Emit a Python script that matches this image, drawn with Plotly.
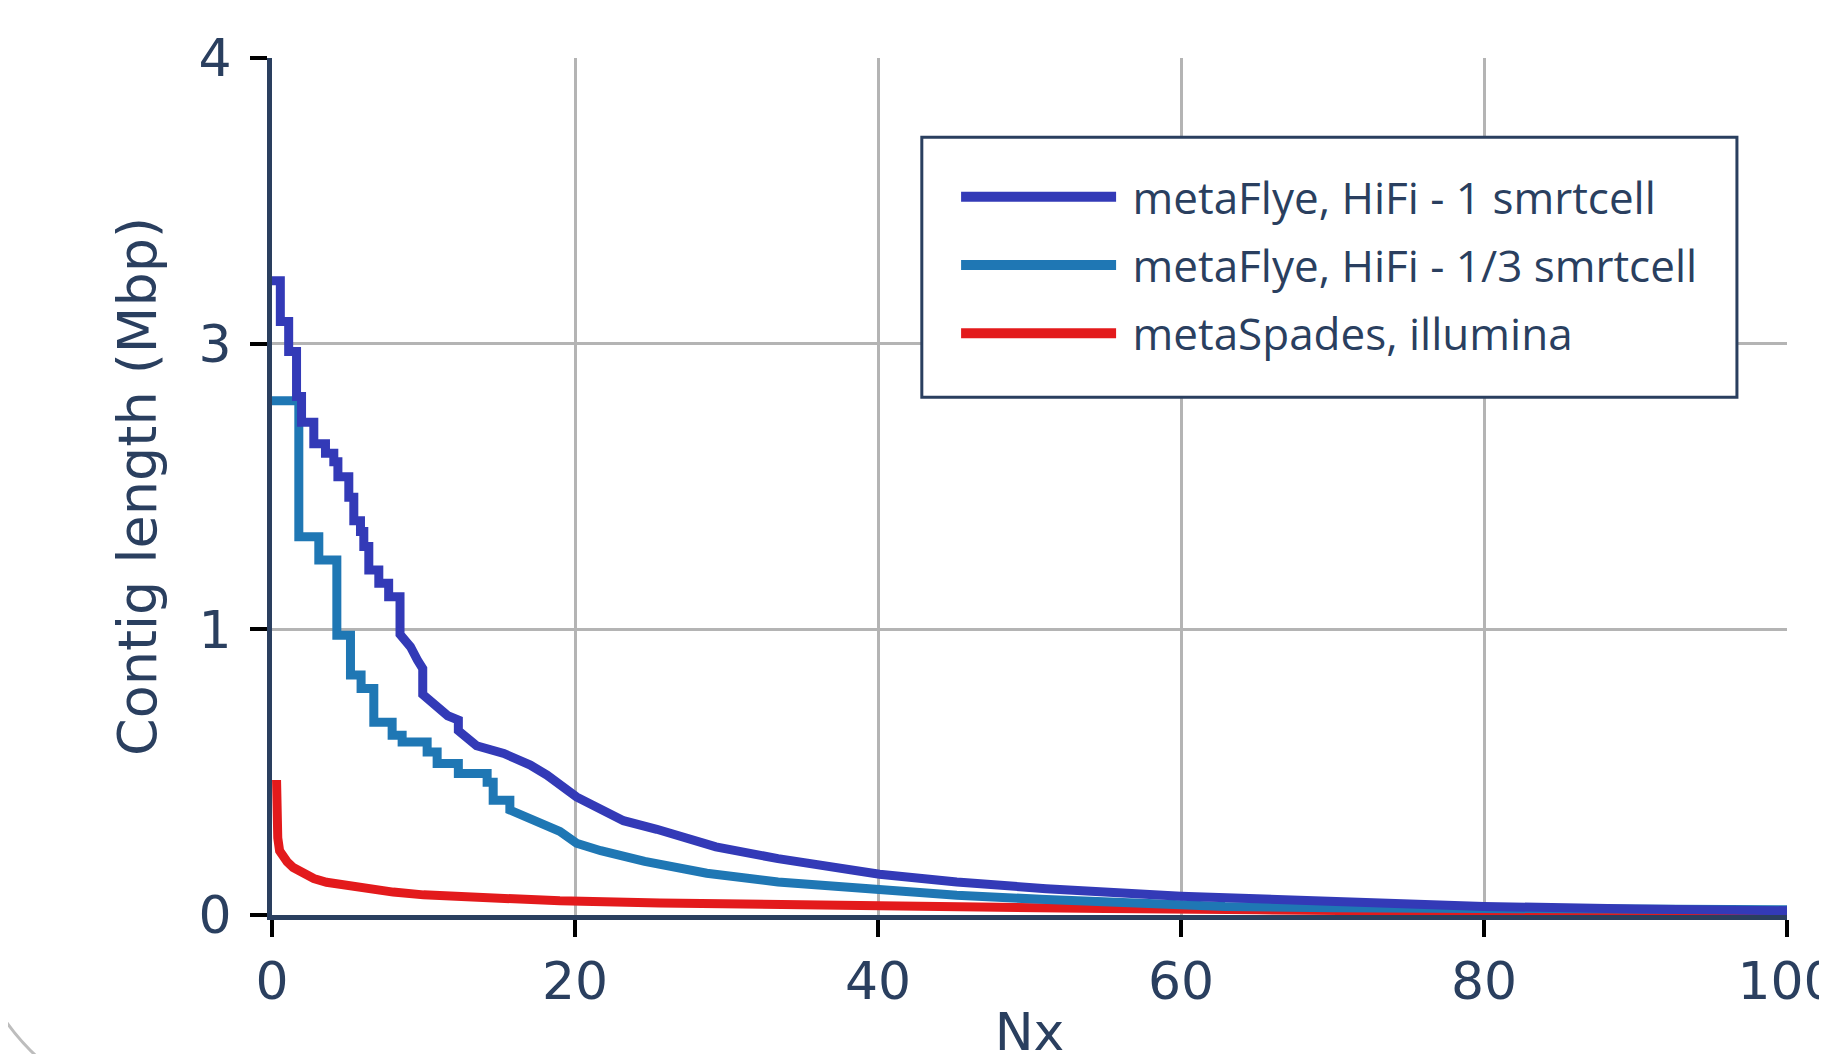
import plotly.graph_objects as go

# ---------------- data ----------------
# metaFlye, HiFi - 1 smrtcell  (Nx %, contig length Mbp) - step curve
flye1_nx = [0, 0.55, 0.55, 1.1, 1.1, 1.62, 1.62, 1.95, 1.95, 2.76, 2.76, 3.53, 3.53,
            4.08, 4.08, 4.35, 4.35, 5.07, 5.07, 5.4, 5.4, 5.84, 5.84, 6.06, 6.06,
            6.39, 6.39, 7.05, 7.05, 7.7, 7.7, 8.45, 8.45, 9.14, 9.6, 9.95, 9.95,
            10.9, 11.6, 12.3, 12.3, 13.5, 15.3, 17.05, 18.15, 20.1, 21.8, 23.2,
            25.4, 27.0, 29.3, 33.4, 37.3, 40.1, 45.2, 51.1, 60.0, 70.0, 80.0, 90.0, 100.0]
flye1_len = [2.96, 2.96, 2.77, 2.77, 2.63, 2.63, 2.42, 2.42, 2.30, 2.30, 2.20, 2.20, 2.155,
             2.155, 2.116, 2.116, 2.046, 2.046, 1.95, 1.95, 1.84, 1.84, 1.79, 1.79, 1.72,
             1.72, 1.61, 1.61, 1.548, 1.548, 1.485, 1.485, 1.31, 1.252, 1.19, 1.15, 1.03,
             0.97, 0.93, 0.91, 0.86, 0.79, 0.754, 0.70, 0.653, 0.551, 0.485, 0.44,
             0.40, 0.365, 0.318, 0.263, 0.217, 0.19, 0.154, 0.123, 0.088, 0.062, 0.040, 0.028, 0.020]

# metaFlye, HiFi - 1/3 smrtcell
flye3_nx = [0, 1.77, 1.77, 3.09, 3.09, 4.28, 4.28, 5.18, 5.18, 5.88, 5.88, 6.72, 6.72,
            7.93, 7.93, 8.59, 8.59, 10.24, 10.24, 10.9, 10.9, 12.3, 12.3, 14.2, 14.2,
            14.6, 14.6, 15.7, 15.7, 16.0, 17.4, 19.0, 20.1, 21.7, 24.6, 28.7, 33.4,
            39.3, 45.2, 51.1, 57.0, 62.9, 70.0, 80.0, 90.0, 100.0]
flye3_len = [2.40, 2.40, 1.766, 1.766, 1.657, 1.657, 1.306, 1.306, 1.12, 1.12, 1.057, 1.057, 0.90,
             0.90, 0.839, 0.839, 0.808, 0.808, 0.761, 0.761, 0.707, 0.707, 0.66, 0.66, 0.62,
             0.62, 0.536, 0.536, 0.49, 0.48, 0.435, 0.39, 0.335, 0.30, 0.25, 0.195, 0.154,
             0.123, 0.092, 0.072, 0.053, 0.040, 0.034, 0.032, 0.028, 0.024]

# metaSpades, illumina
spades_nx = [0.3, 0.32, 0.38, 0.5, 0.7, 1.0, 1.4, 1.88, 2.76, 3.6, 4.74, 6.2, 8.0, 10.0,
             12.4, 15.5, 19.0, 25.6, 35.0, 45.0, 55.0, 65.0, 75.0, 85.0, 100.0]
spades_len = [0.63, 0.45, 0.36, 0.30, 0.27, 0.248, 0.222, 0.20, 0.17, 0.153, 0.139, 0.122, 0.107, 0.094,
              0.084, 0.075, 0.066, 0.056, 0.045, 0.037, 0.030, 0.024, 0.018, 0.012, 0.005]

series_names = ["metaFlye, HiFi - 1 smrtcell", "metaFlye, HiFi - 1/3 smrtcell", "metaSpades, illumina"]
series_colors = ["#333ab7", "#1f77b4", "#e31a1c"]

x_tick_vals = [0, 20, 40, 60, 80, 100]
x_tick_text = ["0", "20", "40", "60", "80", "100"]
y_tick_vals = [0, 4 / 3, 8 / 3, 4]
y_tick_text = ["0", "1", "3", "4"]

# ---------------- figure ----------------
W, H = 1827, 1054
OFF = 8  # page body margin of the html page
L, T = 271.5 - OFF, 58.3 - OFF
PW, PH = 1515.9, 856.4
R, B = W - L - PW, H - T - PH

navy = "#2a3f5f"
grid = "#b4b4b4"


def px_to_paper(px, py):
    """page pixel -> paper coordinates"""
    fx, fy = px - OFF, py - OFF
    return (fx - L) / PW, (T + PH - fy) / PH


fig = go.Figure()
# draw order: red bottom, dark blue on top
order = [2, 1, 0]
data = [(flye1_nx, flye1_len), (flye3_nx, flye3_len), (spades_nx, spades_len)]
for i in order:
    nx, ln = data[i]
    fig.add_trace(go.Scatter(x=nx, y=ln, mode="lines", name=series_names[i],
                             line=dict(color=series_colors[i], width=9),
                             showlegend=False, legendgroup=f"g{i}"))
# legend entries (thicker sample lines, as in the reference)
for i in range(3):
    fig.add_trace(go.Scatter(x=[None], y=[None], mode="lines",
                             name="\u00a0" + series_names[i],
                             line=dict(color=series_colors[i], width=15),
                             legendgroup=f"g{i}", showlegend=True))

# faint arc in the lower-left corner of the reference
a0 = px_to_paper(-2, 1010)
a1 = px_to_paper(14, 1036)
a2 = px_to_paper(38, 1058)
arc_path = f"M {a0[0]},{a0[1]} Q {a1[0]},{a1[1]} {a2[0]},{a2[1]}"

bx0, by0 = px_to_paper(921.7, 137.5)
bx1, by1 = px_to_paper(1737.3, 397.3)
lgx, lgy = px_to_paper(956, 162)

fig.update_layout(
    width=W, height=H,
    margin=dict(l=L, r=R, t=T, b=B, autoexpand=False),
    plot_bgcolor="white", paper_bgcolor="white",
    font=dict(family="DejaVu Sans", color=navy),
    showlegend=True,
    legend=dict(
        x=lgx, y=lgy, xanchor="left", yanchor="top",
        bgcolor="rgba(0,0,0,0)", borderwidth=0,
        font=dict(family="Open Sans", size=44, color=navy),
        traceorder="grouped", tracegroupgap=8, itemwidth=155,
    ),
    xaxis=dict(
        range=[0, 100], tickvals=x_tick_vals, ticktext=x_tick_text,
        showgrid=True, gridcolor=grid, gridwidth=3, zeroline=False,
        showline=True, linecolor=navy, linewidth=5,
        ticks="outside", ticklen=17, tickwidth=4, tickcolor="black",
        ticklabeloverflow="allow",
        tickfont=dict(size=52, color=navy, family="DejaVu Sans"),
        title=dict(text="Nx", font=dict(size=52, color=navy, family="DejaVu Sans"), standoff=18),
        automargin=False,
    ),
    yaxis=dict(
        range=[0, 4], tickvals=y_tick_vals, ticktext=y_tick_text,
        showgrid=True, gridcolor=grid, gridwidth=3, zeroline=False,
        showline=True, linecolor=navy, linewidth=5,
        ticks="outside", ticklen=17, tickwidth=4, tickcolor="black",
        ticklabelstandoff=8,
        tickfont=dict(size=52, color=navy, family="DejaVu Sans"),
        title=dict(text="Contig length (Mbp)", font=dict(size=54, color=navy, family="DejaVu Sans"), standoff=26),
        automargin=False,
    ),
    shapes=[
        dict(type="path", xref="paper", yref="paper", path=arc_path,
             line=dict(color="#bdbdbd", width=3), layer="below"),
        dict(type="rect", xref="paper", yref="paper", x0=bx0, y0=by0, x1=bx1, y1=by1,
             line=dict(color=navy, width=3), fillcolor="white", layer="above"),
    ],
)

fig.write_html("out.html")
